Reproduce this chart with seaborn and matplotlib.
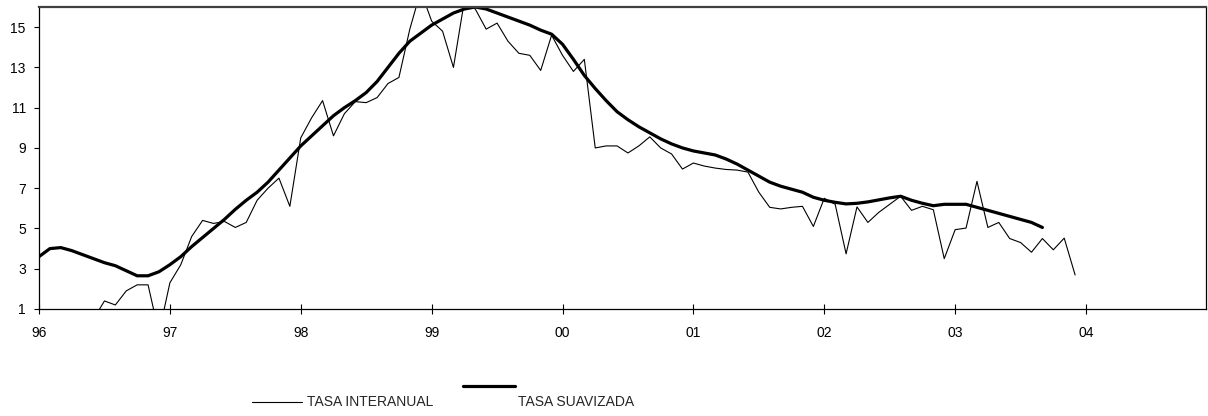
import numpy as np
import pandas as pd
import matplotlib
matplotlib.use('Agg')
import matplotlib.pyplot as plt
from matplotlib.lines import Line2D
import seaborn as sns

# month index 0 = Jan 1996
YEAR_LABELS = ['96', '97', '98', '99', '00', '01', '02', '03', '04']
Y_TICKS = [1, 3, 5, 7, 9, 11, 13, 15]

# tasa interanual, from month 5 (Jun 96) to month 95 (Dec 03)
interanual_start = 5
interanual = [
    0.5, 1.4, 1.2, 1.9, 2.2, 2.2, -0.2,                               # 96
    2.3, 3.2, 4.6, 5.4, 5.25, 5.35, 5.05, 5.3, 6.4, 7.0, 7.5, 6.1,    # 97
    9.5, 10.5, 11.35, 9.6, 10.7, 11.3, 11.25, 11.5, 12.2, 12.5, 14.9, 16.8,  # 98
    15.3, 14.8, 13.0, 16.3, 15.9, 14.9, 15.2, 14.3, 13.7, 13.6, 12.85, 14.6,  # 99
    13.6, 12.8, 13.4, 9.0, 9.1, 9.1, 8.75, 9.1, 9.55, 9.0, 8.7, 7.95,  # 00
    8.25, 8.1, 8.0, 7.93, 7.9, 7.8, 6.8, 6.05, 5.97, 6.05, 6.1, 5.1,   # 01
    6.5, 6.2, 3.74, 6.07, 5.3, 5.8, 6.2, 6.6, 5.9, 6.1, 5.93, 3.5,     # 02
    4.94, 5.02, 7.34, 5.05, 5.3, 4.5, 4.3, 3.82, 4.5, 3.94, 4.52, 2.69,  # 03
]

# tasa suavizada, month 0 (Jan 96) to month 92 (Sep 03)
suavizada = [
    3.6, 4.0, 4.05, 3.9, 3.7, 3.5, 3.3, 3.15, 2.9, 2.65, 2.65, 2.85,   # 96
    3.2, 3.6, 4.1, 4.55, 5.0, 5.45, 5.95, 6.4, 6.8, 7.3, 7.9, 8.5,     # 97
    9.1, 9.6, 10.1, 10.6, 11.0, 11.35, 11.75, 12.3, 13.0, 13.7, 14.3, 14.7,  # 98
    15.1, 15.4, 15.7, 15.9, 16.0, 15.9, 15.7, 15.5, 15.3, 15.1, 14.85, 14.65,  # 99
    14.15, 13.4, 12.6, 11.95, 11.35, 10.8, 10.4, 10.05, 9.75, 9.45, 9.2, 9.0,  # 00
    8.85, 8.75, 8.65, 8.45, 8.2, 7.9, 7.6, 7.3, 7.1, 6.95, 6.8, 6.55,  # 01
    6.4, 6.3, 6.22, 6.25, 6.32, 6.42, 6.52, 6.6, 6.4, 6.25, 6.13, 6.2,  # 02
    6.2, 6.2, 6.05, 5.9, 5.75, 5.6, 5.45, 5.3, 5.05,                   # 03
]

df_int = pd.DataFrame({'mes': np.arange(len(interanual)) + interanual_start,
                       'tasa': interanual})
df_suav = pd.DataFrame({'mes': np.arange(len(suavizada)), 'tasa': suavizada})

sns.set_style('white')
plt.rcParams['font.family'] = ['Liberation Sans', 'DejaVu Sans']

fig = plt.figure(figsize=(12.08, 4.16), dpi=100)
ax = fig.add_axes([39 / 1208, 1 - 309 / 416, (1206 - 39) / 1208, (309 - 7) / 416])

sns.lineplot(data=df_int, x='mes', y='tasa', ax=ax, color='black', lw=0.8,
             legend=False)
sns.lineplot(data=df_suav, x='mes', y='tasa', ax=ax, color='black', lw=2.3,
             legend=False)

ax.set_xlim(0, 107)
ax.set_ylim(1, 16)
ax.set_xticks(np.arange(len(YEAR_LABELS)) * 12)
ax.set_xticklabels(YEAR_LABELS)
ax.set_yticks(Y_TICKS)
ax.set_xlabel('')
ax.set_ylabel('')
ax.tick_params(axis='x', direction='inout', length=7.5, width=0.8, pad=8.5,
               labelsize=10, colors='black')
ax.tick_params(axis='y', direction='out', length=3.5, width=0.8, pad=6,
               labelsize=10, colors='black')
ax.tick_params(axis='both', which='both', left=True, bottom=True)

for side in ['left', 'bottom', 'right']:
    ax.spines[side].set_color('black')
    ax.spines[side].set_linewidth(0.9)
ax.spines['top'].set_color('#404040')
ax.spines['top'].set_linewidth(1.6)

# legend drawn like the original (handles offset)
fig.add_artist(Line2D([252 / 1208, 302 / 1208], [1 - 402 / 416] * 2,
                      transform=fig.transFigure, color='black', lw=0.8))
fig.text(307 / 1208, 1 - 402 / 416, 'TASA INTERANUAL', fontsize=10,
         va='center', ha='left')
fig.add_artist(Line2D([463 / 1208, 515 / 1208], [1 - 386 / 416] * 2,
                      transform=fig.transFigure, color='black', lw=2.3))
fig.text(518 / 1208, 1 - 402 / 416, 'TASA SUAVIZADA', fontsize=10,
         va='center', ha='left')

fig.savefig('out.png', dpi=100)
